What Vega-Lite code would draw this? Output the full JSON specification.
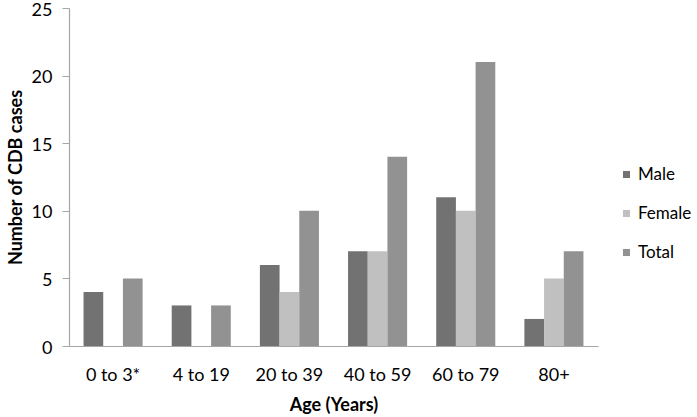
{
  "$schema": "https://vega.github.io/schema/vega-lite/v6.json",
  "width": 529,
  "height": 338,
  "autosize": {"type": "none"},
  "padding": {"left": 69, "top": 8, "right": 99, "bottom": 71},
  "background": "white",
  "config": {"view": {"stroke": null}, "font": "Lato"},
  "data": {"values": [
    {"age": "0 to 3*", "sex": "Male", "cases": 4},
    {"age": "0 to 3*", "sex": "Female", "cases": 0},
    {"age": "0 to 3*", "sex": "Total", "cases": 5},
    {"age": "4 to 19", "sex": "Male", "cases": 3},
    {"age": "4 to 19", "sex": "Female", "cases": 0},
    {"age": "4 to 19", "sex": "Total", "cases": 3},
    {"age": "20 to 39", "sex": "Male", "cases": 6},
    {"age": "20 to 39", "sex": "Female", "cases": 4},
    {"age": "20 to 39", "sex": "Total", "cases": 10},
    {"age": "40 to 59", "sex": "Male", "cases": 7},
    {"age": "40 to 59", "sex": "Female", "cases": 7},
    {"age": "40 to 59", "sex": "Total", "cases": 14},
    {"age": "60 to 79", "sex": "Male", "cases": 11},
    {"age": "60 to 79", "sex": "Female", "cases": 10},
    {"age": "60 to 79", "sex": "Total", "cases": 21},
    {"age": "80+", "sex": "Male", "cases": 2},
    {"age": "80+", "sex": "Female", "cases": 5},
    {"age": "80+", "sex": "Total", "cases": 7}
  ]},
  "mark": {"type": "bar"},
  "encoding": {
    "x": {
      "field": "age", "type": "nominal", "sort": null,
      "scale": {"paddingInner": 0.33, "paddingOuter": 0.165},
      "axis": {
        "title": "Age (Years)", "titleFont": "Lato", "titleFontSize": 18, "titleFontWeight": "bold", "titleColor": "#000",
        "labelAngle": 0, "labelFontSize": 18, "labelColor": "#000", "labelPadding": 20, "titlePadding": 12,
        "domainColor": "#a6a6a6", "domainWidth": 1.2, "ticks": false
      }
    },
    "xOffset": {"field": "sex", "type": "nominal", "sort": ["Male", "Female", "Total"], "scale": {"paddingInner": 0}},
    "y": {
      "field": "cases", "type": "quantitative",
      "scale": {"domain": [0, 25]},
      "axis": {
        "title": "Number of CDB cases", "titleFont": "Lato", "titleFontSize": 18, "titleFontWeight": "bold", "titleColor": "#000",
        "values": [0, 5, 10, 15, 20, 25], "grid": false,
        "labelFontSize": 18, "labelColor": "#000", "labelPadding": 10,
        "labelBaseline": "alphabetic", "labelOffset": 7,
        "domainColor": "#a6a6a6", "domainWidth": 1.2, "tickColor": "#a6a6a6", "tickSize": 7, "titlePadding": 6
      }
    },
    "color": {
      "field": "sex", "type": "nominal",
      "scale": {"domain": ["Male", "Female", "Total"], "range": ["#727272", "#c0c0c0", "#929292"]},
      "legend": {
        "title": null, "orient": "none", "legendX": 549, "legendY": 158,
        "symbolType": "square", "symbolSize": 50, "symbolStrokeWidth": 0,
        "labelFontSize": 17, "labelColor": "#000", "rowPadding": 21, "labelOffset": 3, "labelLimit": 200
      }
    }
  }
}
